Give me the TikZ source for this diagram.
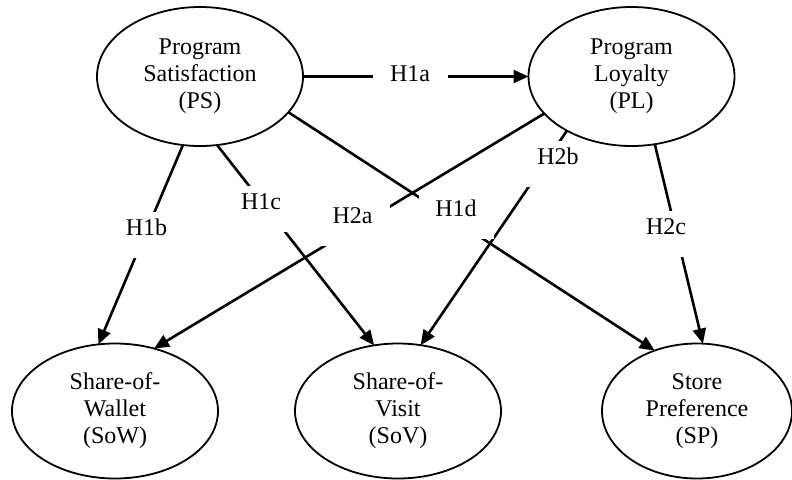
\documentclass[tikz,border=0pt]{standalone}
\usepackage{fontspec}
\setmainfont{Liberation Serif}
\usetikzlibrary{arrows.meta,backgrounds,shapes.geometric}
\begin{document}
\begin{tikzpicture}[x=1pt,y=-1pt,
  font=\fontsize{24}{27}\selectfont,
  var/.style={ellipse, draw, line width=1.8pt, minimum width=206pt, minimum height=139pt,
              inner sep=0pt, outer sep=0pt, align=center},
  conn/.style={line width=2.6pt, -{Triangle[length=15pt,width=13pt]}},
  hyp/.style={fill=white, inner sep=0pt, minimum width=75pt,
              text height=23pt, text depth=23pt, anchor=base}
]
\useasboundingbox (0,0) rectangle (792,479);

\node[var] (PS) at (200,76.5) {Program\\Satisfaction\\(PS)};
\node[var] (PL) at (631.5,76.5) {Program\\Loyalty\\(PL)};
\node[var, minimum height=135pt] (SoW) at (115,411) {Share-of-\\Wallet\\(SoW)};
\node[var, minimum height=135pt] (SoV) at (398,411) {Share-of-\\Visit\\(SoV)};
\node[var, minimum height=135pt, minimum width=190pt] (SP) at (697,411) {Store\\Preference\\(SP)};

\begin{scope}[on background layer]
  \draw[conn] (PS.east) -- (PL.west);
  \draw[conn] (PS.-104) -- (SoW.104.8);
  \draw[conn] (PS.-76) -- (SoV.110.2);
  \draw[conn] (PS.-22) -- (SP.125.4);
  \draw[conn] (PL.-157.5) -- (SoW.58.9);
  \draw[conn] (PL.-140) -- (SoV.71);
  \draw[conn] (PL.-71) -- (SP.85.9);

  \node[hyp] (h1a) at (410,81) {H1a};
  \node[hyp] (h1b) at (146.5,235) {H1b};
  \node[hyp] (h1c) at (261,209) {H1c};
  \node[hyp] (h1d) at (456,216) {H1d};
  \node[hyp] (h2a) at (352.5,223) {H2a};
  \node[hyp] (h2b) at (558,164) {H2b};
  \node[hyp] (h2c) at (666,234) {H2c};
\end{scope}
\end{tikzpicture}
\end{document}
